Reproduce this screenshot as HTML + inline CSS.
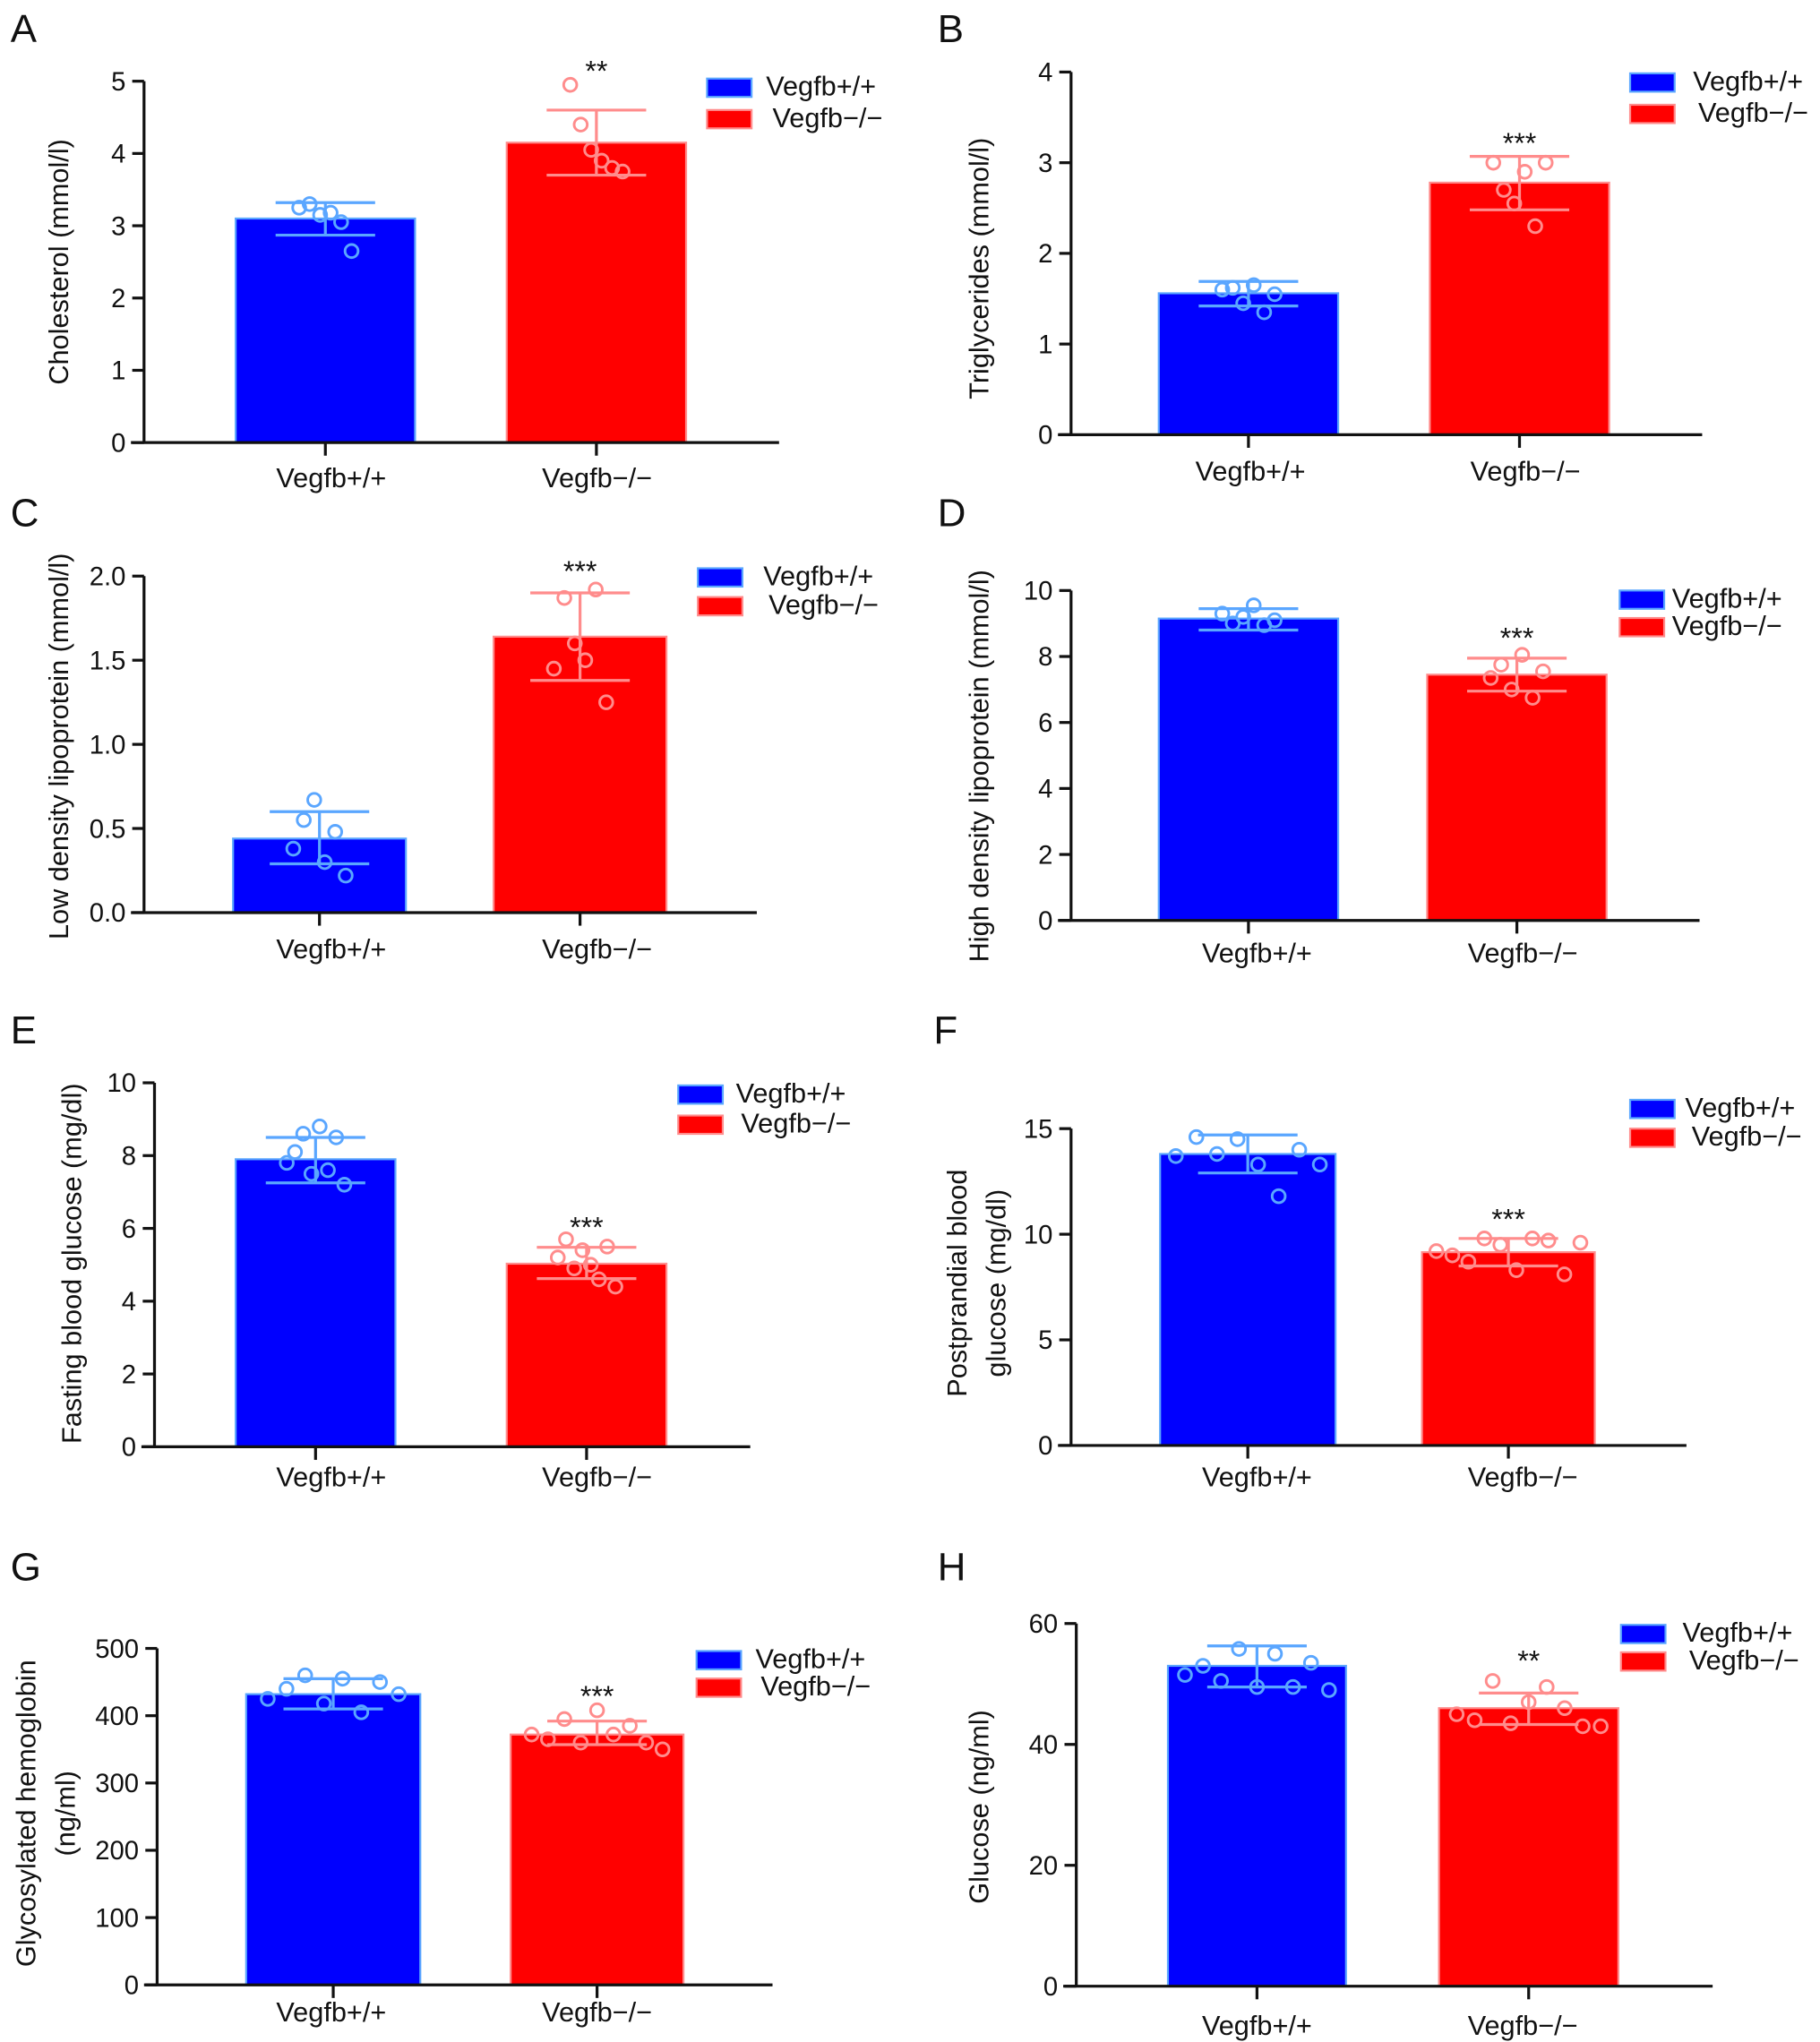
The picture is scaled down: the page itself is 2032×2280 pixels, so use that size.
<!DOCTYPE html>
<html><head><meta charset="utf-8"><style>
html,body{margin:0;padding:0;background:#fff;}
svg{display:block;font-family:"Liberation Sans",Arial,sans-serif;}
</style></head><body>
<svg id="fig" width="2032" height="2280" viewBox="0 0 1390 1559.6" xmlns="http://www.w3.org/2000/svg"></svg>
<script>
const categories = ["Vegfb+/+", "Vegfb\u2212/\u2212"];
// Panel A
const A_ticks = [0,1,2,3,4,5];
const A_means = [3.1,4.15];
const A_errLo = [2.87,3.7];
const A_errHi = [3.32,4.6];
const A_ptsWT = [3.25,3.3,3.15,3.18,3.05,2.65];
const A_ptsKO = [4.95,4.4,4.05,3.9,3.8,3.75];
// Panel B
const B_ticks = [0,1,2,3,4];
const B_means = [1.56,2.78];
const B_errLo = [1.42,2.48];
const B_errHi = [1.69,3.07];
const B_ptsWT = [1.6,1.62,1.45,1.65,1.35,1.55];
const B_ptsKO = [3.0,2.7,2.55,2.9,2.3,3.0];
// Panel C
const C_ticks = [0,0.5,1.0,1.5,2.0];
const C_means = [0.44,1.64];
const C_errLo = [0.29,1.38];
const C_errHi = [0.6,1.9];
const C_ptsWT = [0.38,0.55,0.67,0.3,0.48,0.22];
const C_ptsKO = [1.45,1.87,1.6,1.5,1.92,1.25];
// Panel D
const D_ticks = [0,2,4,6,8,10];
const D_means = [9.15,7.45];
const D_errLo = [8.8,6.95];
const D_errHi = [9.45,7.95];
const D_ptsWT = [9.3,9.0,9.2,9.55,8.95,9.1];
const D_ptsKO = [7.35,7.75,7.0,8.05,6.75,7.55];
// Panel E
const E_ticks = [0,2,4,6,8,10];
const E_means = [7.9,5.03];
const E_errLo = [7.25,4.62];
const E_errHi = [8.5,5.48];
const E_ptsWT = [7.8,8.1,8.6,7.5,8.8,7.6,8.5,7.2];
const E_ptsKO = [5.2,5.7,4.9,5.4,5.0,4.6,5.5,4.4];
// Panel F
const F_ticks = [0,5,10,15];
const F_means = [13.8,9.15];
const F_errLo = [12.9,8.5];
const F_errHi = [14.7,9.8];
const F_ptsWT = [13.7,14.6,13.8,14.5,13.3,11.8,14.0,13.3];
const F_ptsKO = [9.2,9.0,8.7,9.8,9.5,8.3,9.8,9.7,8.1,9.6];
// Panel G
const G_ticks = [0,100,200,300,400,500];
const G_means = [432,372];
const G_errLo = [410,357];
const G_errHi = [455,392];
const G_ptsWT = [425,440,460,418,455,405,450,432];
const G_ptsKO = [372,365,395,360,408,372,385,360,350];
// Panel H
const H_ticks = [0,20,40,60];
const H_means = [53,46];
const H_errLo = [49.5,43.3];
const H_errHi = [56.3,48.5];
const H_ptsWT = [51.5,53,50.5,55.8,49.5,55,49.5,53.5,49];
const H_ptsKO = [45,44,50.5,43.5,47,49.5,46,43,43];

const panels = [
 {id:"a",letter:"A",lx:8,ly:32,ax:110,yTop:62,y0:338,xEnd:595,bars:[[180,317],[387,524]],catY:372,cats:[253,456],legX:540,legY:[60,84],legT:[585,590],stars:"**",starY:62,title:["Cholesterol (mmol/l)"],tx:[52],tcy:200,spread:20,ticks:A_ticks,means:A_means,lo:A_errLo,hi:A_errHi,wt:A_ptsWT,ko:A_ptsKO,dec:0},
 {id:"b",letter:"B",lx:716,ly:32,ax:818,yTop:55,y0:332,xEnd:1300,bars:[[885,1022],[1092,1229]],catY:367,cats:[955,1165],legX:1245,legY:[56,80],legT:[1293,1297],stars:"***",starY:117,title:["Triglycerides (mmol/l)"],tx:[755],tcy:205,spread:20,ticks:B_ticks,means:B_means,lo:B_errLo,hi:B_errHi,wt:B_ptsWT,ko:B_ptsKO,dec:0},
 {id:"c",letter:"C",lx:8,ly:402,ax:110,yTop:440,y0:697,xEnd:578,bars:[[178,310],[377,509]],catY:732,cats:[253,456],legX:533,legY:[434,456],legT:[583,587],stars:"***",starY:444,title:["Low density lipoprotein (mmol/l)"],tx:[52],tcy:570,spread:20,ticks:C_ticks,means:C_means,lo:C_errLo,hi:C_errHi,wt:C_ptsWT,ko:C_ptsKO,dec:1},
 {id:"d",letter:"D",lx:716,ly:402,ax:818,yTop:451,y0:703,xEnd:1298,bars:[[885,1022],[1090,1227]],catY:735,cats:[960,1163],legX:1237,legY:[451,472],legT:[1277,1277],stars:"***",starY:495,title:["High density lipoprotein (mmol/l)"],tx:[755],tcy:585,spread:20,ticks:D_ticks,means:D_means,lo:D_errLo,hi:D_errHi,wt:D_ptsWT,ko:D_ptsKO,dec:0},
 {id:"e",letter:"E",lx:8,ly:797,ax:118,yTop:827,y0:1105,xEnd:573,bars:[[180,302],[387,509]],catY:1135,cats:[253,456],legX:518,legY:[829,852],legT:[562,566],stars:"***",starY:945,title:["Fasting blood glucose (mg/dl)"],tx:[62],tcy:965,spread:22,ticks:E_ticks,means:E_means,lo:E_errLo,hi:E_errHi,wt:E_ptsWT,ko:E_ptsKO,dec:0},
 {id:"f",letter:"F",lx:713,ly:797,ax:818,yTop:862,y0:1104,xEnd:1288,bars:[[886,1020],[1086,1218]],catY:1135,cats:[960,1163],legX:1245,legY:[840,862],legT:[1287,1292],stars:"***",starY:939,title:["Postprandial blood","glucose (mg/dl)"],tx:[738,768],tcy:980,spread:55,ticks:F_ticks,means:F_means,lo:F_errLo,hi:F_errHi,wt:F_ptsWT,ko:F_ptsKO,dec:0},
 {id:"g",letter:"G",lx:8,ly:1207,ax:120,yTop:1259,y0:1516,xEnd:590,bars:[[188,321],[390,522]],catY:1544,cats:[253,456],legX:532,legY:[1261,1282],legT:[577,581],stars:"***",starY:1303,title:["Glycosylated hemoglobin","(ng/ml)"],tx:[27,57],tcy:1385,spread:50,ticks:G_ticks,means:G_means,lo:G_errLo,hi:G_errHi,wt:G_ptsWT,ko:G_ptsKO,dec:0},
 {id:"h",letter:"H",lx:716,ly:1207,ax:822,yTop:1240,y0:1517,xEnd:1308,bars:[[892,1028],[1099,1236]],catY:1554,cats:[960,1163],legX:1238,legY:[1241,1262],legT:[1285,1290],stars:"**",starY:1276,title:["Glucose (ng/ml)"],tx:[755],tcy:1380,spread:55,ticks:H_ticks,means:H_means,lo:H_errLo,hi:H_errHi,wt:H_ptsWT,ko:H_ptsKO,dec:0}
];

const NS="http://www.w3.org/2000/svg";
const fig=document.getElementById("fig");
function mk(tag,attrs,parent){const e=document.createElementNS(NS,tag);for(const k in attrs)e.setAttribute(k,attrs[k]);parent.appendChild(e);return e;}
const fills=["#0000ff","#ff0000"], lights=["#5aa6ff","#ff8c8c"];

panels.forEach(p=>{
  const g=mk("g",{},fig);
  
  
  const maxV=p.ticks[p.ticks.length-1];
  const y=v=>p.y0-(v/maxV)*(p.y0-p.yTop);
  const L=mk("text",{x:p.lx,y:p.ly,"font-size":30,fill:"#111"},g);L.textContent=p.letter;
  
  
  // bars
  const sets=[p.wt,p.ko];
  p.bars.forEach((b,i)=>{
    const r=mk("rect",{x:b[0],y:y(p.means[i]),width:b[1]-b[0],height:p.y0-y(p.means[i]),fill:fills[i],stroke:lights[i],"stroke-width":1.5},g);
    
    
    const cx=(b[0]+b[1])/2;
    const eb=mk("path",{d:`M${cx-38},${y(p.hi[i])}H${cx+38}M${cx-38},${y(p.lo[i])}H${cx+38}M${cx},${y(p.lo[i])}V${y(p.hi[i])}`,stroke:lights[i],"stroke-width":2.2,fill:"none"},g);
    
    
    const pts=sets[i], n=pts.length;
    pts.forEach((v,k)=>{
      const off=n>1?(k/(n-1)-0.5)*2*p.spread:0;
      const c=mk("circle",{cx:cx+off,cy:y(v),r:5,fill:"none",stroke:lights[i],"stroke-width":2},g);
      
      
    });
  });
  // axes
  const ax=mk("path",{d:`M${p.ax},${p.yTop}V${p.y0}M${p.ax-10},${p.y0}H${p.xEnd}`,stroke:"#111","stroke-width":2.2,fill:"none"},g);
  
  
  p.ticks.forEach(t=>{
    const tk=mk("path",{d:`M${p.ax-9},${y(t)}H${p.ax}`,stroke:"#111","stroke-width":2.2},g);
    
    
    const tl=mk("text",{x:p.ax-14,y:y(t)+7,"font-size":20,"text-anchor":"end",fill:"#111"},g);
    tl.textContent=t.toFixed(p.dec);
    
    
  });
  p.cats.forEach((cx,i)=>{
    const bx=(p.bars[i][0]+p.bars[i][1])/2;
    const tk=mk("path",{d:`M${bx},${p.y0}V${p.y0+10}`,stroke:"#111","stroke-width":2.2},g);
    
    
    const ct=mk("text",{x:cx,y:p.catY,"font-size":21,"text-anchor":"middle",fill:"#111"},g);
    ct.textContent=categories[i];
    
    
  });
  const st=mk("text",{x:(p.bars[1][0]+p.bars[1][1])/2,y:p.starY,"font-size":22,"text-anchor":"middle",fill:"#111"},g);
  st.textContent=p.stars;
  
  
  p.title.forEach((line,k)=>{
    const tt=mk("text",{x:p.tx[k],y:p.tcy,"font-size":21,"text-anchor":"middle",fill:"#111",transform:`rotate(-90 ${p.tx[k]} ${p.tcy})`},g);
    tt.textContent=line;
    
    
  });
  [0,1].forEach(i=>{
    const lr=mk("rect",{x:p.legX,y:p.legY[i],width:34,height:14,fill:fills[i],stroke:lights[i],"stroke-width":1.5},g);
    
    
    const lt=mk("text",{x:p.legT[i],y:p.legY[i]+13,"font-size":21,fill:"#111"},g);
    lt.textContent=categories[i];
    
    
  });
});
</script>
</body></html>
